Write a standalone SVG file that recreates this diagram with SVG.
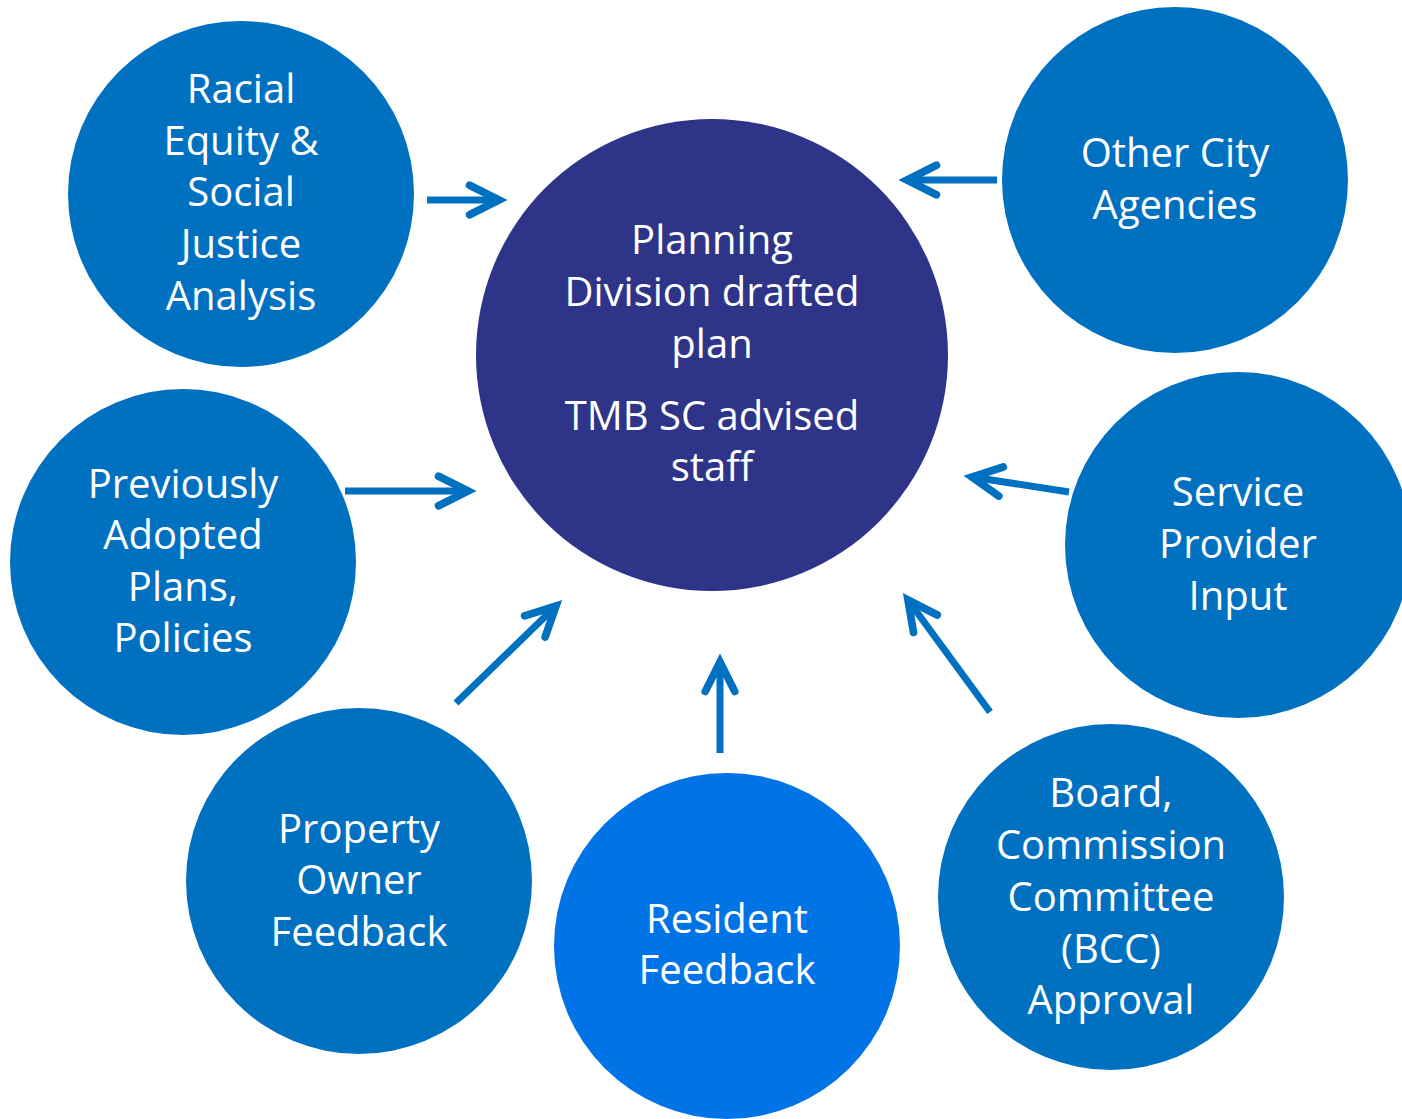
<svg xmlns="http://www.w3.org/2000/svg" width="1402" height="1119" viewBox="0 0 1402 1119">
<style>
.node{fill:#0070C0}
.center{fill:#2E3589}
.res{fill:#0073E6}
text{font-family:"Open Sans","Noto Sans",sans-serif;font-size:40px;fill:#FFFFFF;text-anchor:middle}
.conn{stroke:#0070C0;stroke-width:7;fill:none;marker-end:url(#head)}
</style>
<defs>
<marker id="head" markerUnits="strokeWidth" markerWidth="10" markerHeight="10" refX="0" refY="0" orient="auto" overflow="visible">
<path d="M-4.2,-2.1 L0,0 L-4.2,2.1" fill="none" stroke="#0070C0" stroke-width="1.1" stroke-linecap="round" stroke-linejoin="miter"/>
</marker>
</defs>
<rect width="1402" height="1119" fill="#FFFFFF"/>
<g id="center">
<circle class="center" cx="712" cy="355" r="236"/>
<text x="712" y="254">Planning</text>
<text x="712" y="306">Division drafted</text>
<text x="712" y="358">plan</text>
<text x="712" y="430">TMB SC advised</text>
<text x="712" y="481">staff</text>
</g>
<g id="racial">
<circle class="node" cx="241" cy="194" r="173"/>
<text x="241" y="103">Racial</text>
<text x="241" y="155">Equity &amp;</text>
<text x="241" y="206">Social</text>
<text x="241" y="258">Justice</text>
<text x="241" y="310">Analysis</text>
</g>
<g id="other">
<circle class="node" cx="1175" cy="180" r="173"/>
<text x="1175" y="167">Other City</text>
<text x="1175" y="219">Agencies</text>
</g>
<g id="previous">
<circle class="node" cx="183" cy="562" r="173"/>
<text x="183" y="498">Previously</text>
<text x="183" y="549">Adopted</text>
<text x="183" y="601">Plans,</text>
<text x="183" y="652">Policies</text>
</g>
<g id="service">
<circle class="node" cx="1238" cy="545" r="173"/>
<text x="1238" y="506">Service</text>
<text x="1238" y="558">Provider</text>
<text x="1238" y="610">Input</text>
</g>
<g id="property">
<circle class="node" cx="359" cy="881" r="173"/>
<text x="359" y="843">Property</text>
<text x="359" y="894">Owner</text>
<text x="359" y="946">Feedback</text>
</g>
<g id="resident">
<circle class="res" cx="727" cy="946" r="173"/>
<text x="727" y="933">Resident</text>
<text x="727" y="984">Feedback</text>
</g>
<g id="board">
<circle class="node" cx="1111" cy="897" r="173"/>
<text x="1111" y="807">Board,</text>
<text x="1111" y="859">Commission</text>
<text x="1111" y="911">Committee</text>
<text x="1111" y="963">(BCC)</text>
<text x="1111" y="1014">Approval</text>
</g>
<g id="connectors">
<line class="conn" x1="427" y1="200" x2="499" y2="200"/>
<line class="conn" x1="997" y1="180" x2="907" y2="180"/>
<line class="conn" x1="1069" y1="492" x2="972" y2="477"/>
<line class="conn" x1="456" y1="703" x2="556" y2="606"/>
<line class="conn" x1="720" y1="753" x2="720" y2="662"/>
<line class="conn" x1="990" y1="712" x2="908" y2="600"/>
<line class="conn" x1="345" y1="491" x2="468" y2="491"/>
</g>
</svg>
